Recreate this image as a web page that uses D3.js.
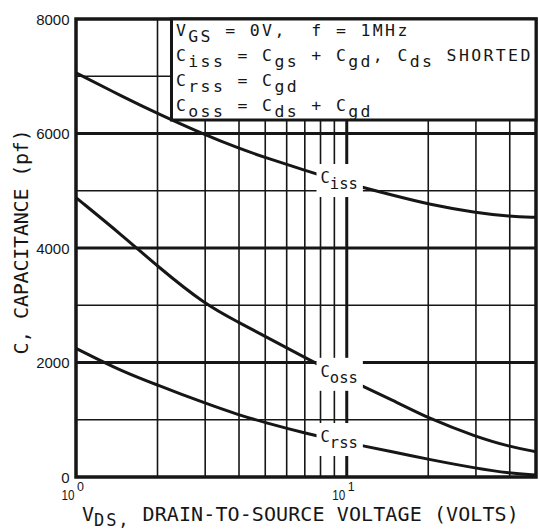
<!DOCTYPE html>
<html><head><meta charset="utf-8">
<script src="https://cdn.jsdelivr.net/npm/d3@7"></script>
<style>html,body{margin:0;padding:0;background:#fff}svg{display:block}</style>
</head><body>
<script>
// ---- data ----
const vds  = [1, 1.5, 2, 3, 4, 5, 7, 10, 15, 20, 30, 40, 50];
const ciss = [7060, 6635, 6350, 5975, 5740, 5580, 5355, 5130, 4915, 4765, 4615, 4552, 4536];
const coss = [4880, 4200, 3680, 3010, 2700, 2455, 2085, 1710, 1330, 1025, 704, 530, 442];
const crss = [2248, 1830, 1607, 1287, 1083, 950, 767, 599, 433, 309, 152, 65, 35];
const seriesSubs = ["iss", "oss", "rss"];
const labelVds = [8, 8, 8];
const labelValues = [5135, 1750, 611];
const yTickValues = [0, 2000, 4000, 6000, 8000];
const yMinorGrid = [1000, 3000, 5000, 7000];
const yMajorGrid = [2000, 4000, 6000];
const xMinorGrid = [2, 3, 4, 5, 6, 7, 8, 9, 20, 30, 40];
const xMajorGrid = [10];
const xTickValues = [1, 10];
const xTickExponents = ["0", "1"];
const legendLines = [
  [["V",0],["GS",1],[" = 0V,  f = 1MHz",0]],
  [["C",0],["iss",1],[" = C",0],["gs",1],[" + C",0],["gd",1],[", C",0],["ds",1],[" SHORTED",0]],
  [["C",0],["rss",1],[" = C",0],["gd",1]],
  [["C",0],["oss",1],[" = C",0],["ds",1],[" + C",0],["gd",1]]
];
const yTitle = "C, CAPACITANCE (pf)";
const xTitleMain = "V", xTitleSub = "DS,", xTitleRest = " DRAIN-TO-SOURCE VOLTAGE (VOLTS)";

// ---- drawing ----
const W = 539, H = 529;
const ink = "#161616";
const mono = "'DejaVu Sans Mono', monospace";
const sans = "'Liberation Sans', Arial, sans-serif";

const x = d3.scaleLog().domain([1, 50]).range([76, 536]);
const y = d3.scaleLinear().domain([0, 8000]).range([477, 19]);

const svg = d3.select("body").append("svg").attr("width", W).attr("height", H);
svg.append("rect").attr("width", W).attr("height", H).attr("fill", "#fff");

const grid = svg.append("g").attr("stroke", ink);
grid.selectAll(".vmin").data(xMinorGrid).join("line")
  .attr("x1", d => x(d)).attr("x2", d => x(d)).attr("y1", y(0)).attr("y2", y(8000))
  .attr("stroke-width", 1.6);
grid.selectAll(".vmaj").data(xMajorGrid).join("line")
  .attr("x1", d => x(d)).attr("x2", d => x(d)).attr("y1", y(0)).attr("y2", y(8000))
  .attr("stroke-width", 3);
grid.selectAll(".hmin").data(yMinorGrid).join("line")
  .attr("x1", x(1)).attr("x2", x(50)).attr("y1", d => y(d)).attr("y2", d => y(d))
  .attr("stroke-width", 1.6);
grid.selectAll(".hmaj").data(yMajorGrid).join("line")
  .attr("x1", x(1)).attr("x2", x(50)).attr("y1", d => y(d)).attr("y2", d => y(d))
  .attr("stroke-width", 3);

const line = d3.line().x(d => x(d[0])).y(d => y(d[1])).curve(d3.curveBasis);
[ciss, coss, crss].forEach(vals => {
  svg.append("path").datum(vds.map((v, i) => [v, vals[i]]))
    .attr("d", line).attr("fill", "none").attr("stroke", ink).attr("stroke-width", 3);
});

// frame
svg.append("rect").attr("x", x(1)).attr("y", y(8000))
  .attr("width", x(50) - x(1)).attr("height", y(0) - y(8000))
  .attr("fill", "none").attr("stroke", ink).attr("stroke-width", 3.5);

// legend box
const bx = 171.5, by = y(8000), bw = x(50) - 171.5, bh = 101;
svg.append("rect").attr("x", bx).attr("y", by).attr("width", bw).attr("height", bh)
  .attr("fill", "#fff").attr("stroke", ink).attr("stroke-width", 3);
const adv = 12.3, lx0 = 176, baselines = [36, 61, 86, 111];
legendLines.forEach((segs, li) => {
  const t = svg.append("text").attr("font-family", mono).attr("font-size", 16.5)
    .attr("fill", ink).style("white-space", "pre").attr("letter-spacing", adv - 16.5 * 0.602);
  let idx = 0;
  segs.forEach(([s, sub]) => {
    t.append("tspan").attr("x", lx0 + idx * adv).attr("y", baselines[li] + (sub ? 6 : 0)).text(s);
    idx += s.length;
  });
});

// curve labels with white knock-out
seriesSubs.forEach((sub, i) => {
  const g = svg.append("g");
  const t = g.append("text").attr("font-family", mono).attr("font-size", 15.5).attr("fill", ink);
  const x0 = x(labelVds[i]), y0 = y(labelValues[i]);
  t.append("tspan").attr("x", x0).attr("y", y0).text("C");
  t.append("tspan").attr("y", y0 + 6).text(sub);
  const bb = t.node().getBBox();
  g.insert("rect", "text").attr("x", bb.x - 4).attr("y", bb.y - 5)
    .attr("width", bb.width + 9).attr("height", bb.height + 9).attr("fill", "#fff");
});

// y tick labels
svg.append("g").selectAll("text").data(yTickValues).join("text")
  .attr("x", 69.5).attr("y", d => y(d) + 5.5).attr("text-anchor", "end")
  .attr("font-family", sans).attr("font-size", 15).attr("fill", ink).text(d => d);

// x tick labels (10^n)
xTickValues.forEach((v, i) => {
  svg.append("text").attr("x", x(v) - 14.5).attr("y", 499.5).attr("font-family", sans)
    .attr("font-size", 15).attr("fill", ink).attr("textLength", 13)
    .attr("lengthAdjust", "spacingAndGlyphs").text("10");
  svg.append("text").attr("x", x(v) + 1).attr("y", 490.5).attr("font-family", sans)
    .attr("font-size", 12.5).attr("fill", ink).text(xTickExponents[i]);
});

// axis titles
const xt = svg.append("text").attr("font-family", mono).attr("font-size", 20).attr("fill", ink)
  .style("white-space", "pre").attr("letter-spacing", 0.1);
xt.append("tspan").attr("x", 82).attr("y", 521).text(xTitleMain);
xt.append("tspan").attr("x", 82 + 12.1).attr("y", 525.5).attr("font-size", 17)
  .attr("letter-spacing", 12.1 - 17 * 0.602).text(xTitleSub);
xt.append("tspan").attr("x", 82 + 12.1 * 4).attr("y", 521).text(xTitleRest);

svg.append("text").attr("transform", "translate(28,242) rotate(-90)")
  .attr("text-anchor", "middle").attr("font-family", mono).attr("font-size", 20)
  .attr("letter-spacing", -0.2).attr("fill", ink).style("white-space", "pre").text(yTitle);
</script>
</body></html>
